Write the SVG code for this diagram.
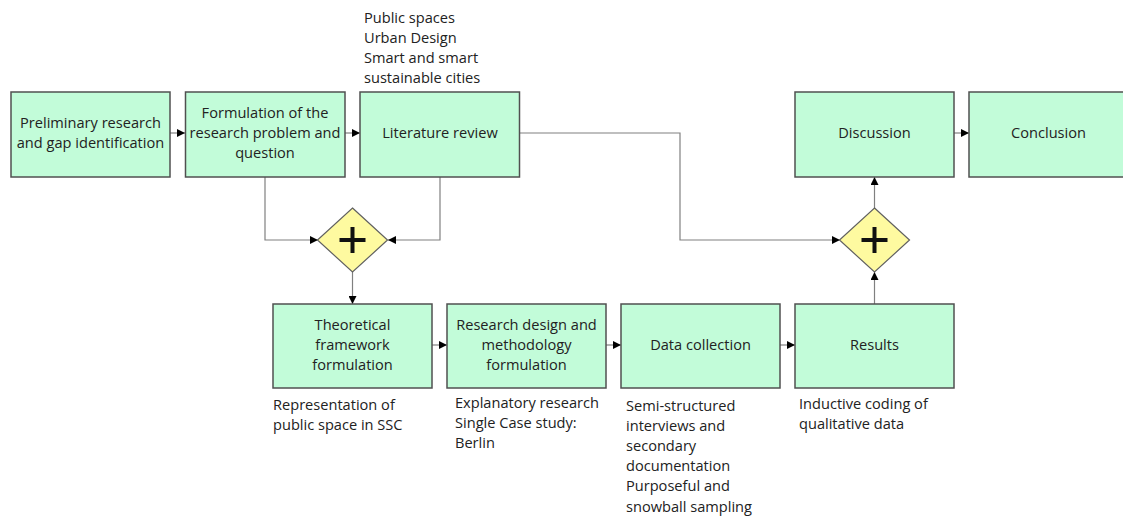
<svg xmlns="http://www.w3.org/2000/svg" width="1123" height="518" viewBox="0 0 1123 518">
<defs>
<style>
.box{fill:#c2fcd9;stroke:#505050;stroke-width:1.5}
.gw{fill:#fefaa0;stroke:#606060;stroke-width:1.2}
.plus{stroke:#111;stroke-width:4;fill:none}
.t{font-family:"Open Sans","Noto Sans",sans-serif;font-size:14.6px;fill:#222}
.c{text-anchor:middle}
.ln{fill:none;stroke:#808080;stroke-width:1.2;marker-end:url(#ah)}
</style>
<marker id="ah" viewBox="0 0 10 10" refX="10" refY="5" markerWidth="8" markerHeight="8" markerUnits="userSpaceOnUse" orient="auto">
<path d="M0,0 L10,5 L0,10 Z" fill="#000"/>
</marker>
</defs>
<rect width="1123" height="518" fill="#fff"/>
<g id="connectors">
<path class="ln" d="M170,133 H185"/>
<path class="ln" d="M345,133 H360"/>
<path class="ln" d="M265,177 V240 H318"/>
<path class="ln" d="M440,177 V240 H388"/>
<path class="ln" d="M352.5,272 V304"/>
<path class="ln" d="M432,345 H447"/>
<path class="ln" d="M606,345 H621"/>
<path class="ln" d="M780,345 H795"/>
<path class="ln" d="M874.5,304 V272"/>
<path class="ln" d="M519,133 H680 V240 H840"/>
<path class="ln" d="M874.5,209 V177"/>
<path class="ln" d="M954,133 H969"/>
</g>
<g id="n1"><rect class="box" x="11" y="92" width="159" height="85"/>
<text class="t c" x="90.5" y="128">Preliminary research</text><text class="t c" x="90.5" y="148">and gap identification</text></g>
<g id="n2"><rect class="box" x="185.5" y="92" width="159.5" height="85"/>
<text class="t c" x="265" y="118">Formulation of the</text><text class="t c" x="265" y="138">research problem and</text><text class="t c" x="265" y="158">question</text></g>
<g id="n3"><rect class="box" x="360" y="92" width="159.5" height="85"/>
<text class="t c" x="440" y="138">Literature review</text></g>
<g id="a3"><text class="t" x="364" y="23">Public spaces</text><text class="t" x="364" y="43">Urban Design</text><text class="t" x="364" y="63">Smart and smart</text><text class="t" x="364" y="83">sustainable cities</text></g>
<g id="n4"><rect class="box" x="795" y="92" width="159" height="85"/>
<text class="t c" x="874.5" y="138">Discussion</text></g>
<g id="n5"><rect class="box" x="969" y="92" width="159" height="85"/>
<text class="t c" x="1048.5" y="138">Conclusion</text></g>
<g id="g1"><path class="gw" d="M352.5,208 L387.5,240 L352.5,272 L317.5,240 Z"/>
<path class="plus" d="M339.5,240 H365.5 M352.5,227 V253"/></g>
<g id="g2"><path class="gw" d="M874.5,208 L909.5,240 L874.5,272 L839.5,240 Z"/>
<path class="plus" d="M861.5,240 H887.5 M874.5,227 V253"/></g>
<g id="n6"><rect class="box" x="273" y="304" width="159" height="84"/>
<text class="t c" x="352.5" y="330">Theoretical</text><text class="t c" x="352.5" y="350">framework</text><text class="t c" x="352.5" y="370">formulation</text></g>
<g id="a6"><text class="t" x="273" y="410">Representation of</text><text class="t" x="273" y="430">public space in SSC</text></g>
<g id="n7"><rect class="box" x="447" y="304" width="159" height="84"/>
<text class="t c" x="526.5" y="330">Research design and</text><text class="t c" x="526.5" y="350">methodology</text><text class="t c" x="526.5" y="370">formulation</text></g>
<g id="a7"><text class="t" x="455" y="408">Explanatory research</text><text class="t" x="455" y="428">Single Case study:</text><text class="t" x="455" y="448">Berlin</text></g>
<g id="n8"><rect class="box" x="621" y="304" width="159" height="84"/>
<text class="t c" x="700.5" y="350">Data collection</text></g>
<g id="a8"><text class="t" x="626" y="411">Semi-structured</text><text class="t" x="626" y="431">interviews and</text><text class="t" x="626" y="451">secondary</text><text class="t" x="626" y="471">documentation</text><text class="t" x="626" y="491">Purposeful and</text><text class="t" x="626" y="512">snowball sampling</text></g>
<g id="n9"><rect class="box" x="795" y="304" width="159" height="84"/>
<text class="t c" x="874.5" y="350">Results</text></g>
<g id="a9"><text class="t" x="799" y="409">Inductive coding of</text><text class="t" x="799" y="429">qualitative data</text></g>
</svg>
